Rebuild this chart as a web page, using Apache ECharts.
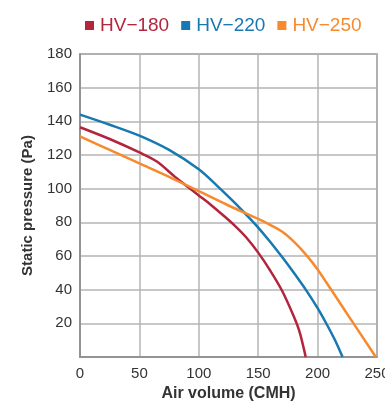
<!DOCTYPE html>
<html>
<head>
<meta charset="utf-8">
<script src="https://cdn.jsdelivr.net/npm/echarts@6/dist/echarts.min.js"></script>
<style>html,body{margin:0;padding:0;background:#fff}#c{width:385px;height:405px}</style>
</head>
<body>
<div id="c"></div>
<script>
const seriesNames = ['HV\u2212180', 'HV\u2212220', 'HV\u2212250'];
const seriesColors = ['#b3243d', '#1878b2', '#f68a2c'];
const hv180 = [[0,136.5],[25,129.5],[50,121.5],[65,116],[80,107],[90,101.5],[100,96],[110,90.5],[120,84.5],[130,78.2],[140,71],[150,62],[160,51.5],[170,39.5],[180,24],[185,14.5],[190,0]];
const hv220 = [[0,144],[25,138],[50,131.5],[75,123],[100,111.5],[115,102],[128,93.2],[138,86],[148,78.5],[160,68.5],[170,59.5],[180,50],[190,40],[200,29],[208,19],[215,9.5],[221,0]];
const hv250 = [[0,131],[25,123],[50,115],[75,107],[100,98.5],[125,90],[150,82],[160,78.5],[170,74.5],[180,68.5],[190,61],[200,52],[225,25.5],[249,0]];
const xTicks = [0, 50, 100, 150, 200, 250];
const yTicks = [0, 20, 40, 60, 80, 100, 120, 140, 160, 180];
const xName = 'Air volume (CMH)';
const yName = 'Static pressure (Pa)';

const font = '"Liberation Sans", Arial, Helvetica, sans-serif';
const chart = echarts.init(document.getElementById('c'), null, {renderer: 'canvas'});
const allData = [hv180, hv220, hv250];
chart.setOption({
  animation: false,
  textStyle: {fontFamily: font},
  legend: {
    top: 11, left: 80,
    icon: 'rect', itemWidth: 9, itemHeight: 9, itemGap: 12,
    data: seriesNames.map((n, i) => ({name: n, textStyle: {color: seriesColors[i]}})),
    textStyle: {fontSize: 19, fontFamily: font, padding: [0, 0, 0, 1]}
  },
  grid: {left: 80, right: 8, top: 54, bottom: 48, show: true, borderColor: '#8a8a8a', borderWidth: 1.5, containLabel: false, outerBoundsMode: 'none'},
  xAxis: {
    type: 'value', min: xTicks[0], max: xTicks[xTicks.length - 1], interval: 50,
    name: xName, nameLocation: 'middle', nameGap: 27,
    nameTextStyle: {fontSize: 16, fontWeight: 'bold', color: '#333', fontFamily: font},
    axisLine: {show: true, lineStyle: {color: '#8a8a8a', width: 1.5}},
    axisTick: {show: false},
    axisLabel: {fontSize: 15, color: '#333', margin: 9, fontFamily: font},
    splitLine: {show: true, lineStyle: {color: '#b4b4b4', width: 1.5}}
  },
  yAxis: {
    type: 'value', min: yTicks[0], max: yTicks[yTicks.length - 1], interval: 20,
    name: yName, nameLocation: 'middle', nameGap: 45,
    nameTextStyle: {fontSize: 15, fontWeight: 'bold', color: '#333', fontFamily: font},
    axisLine: {show: true, lineStyle: {color: '#8a8a8a', width: 1.5}},
    axisTick: {show: false},
    axisLabel: {fontSize: 15, color: '#333', margin: 8, fontFamily: font, formatter: v => v === 0 ? '' : String(v)},
    splitLine: {show: true, lineStyle: {color: '#b4b4b4', width: 1.5}}
  },
  series: seriesNames.map((n, i) => ({
    name: n, type: 'line', data: allData[i], symbol: 'none', smooth: 0.3,
    lineStyle: {color: seriesColors[i], width: 2.5},
    itemStyle: {color: seriesColors[i]}
  }))
});
</script>
</body>
</html>
